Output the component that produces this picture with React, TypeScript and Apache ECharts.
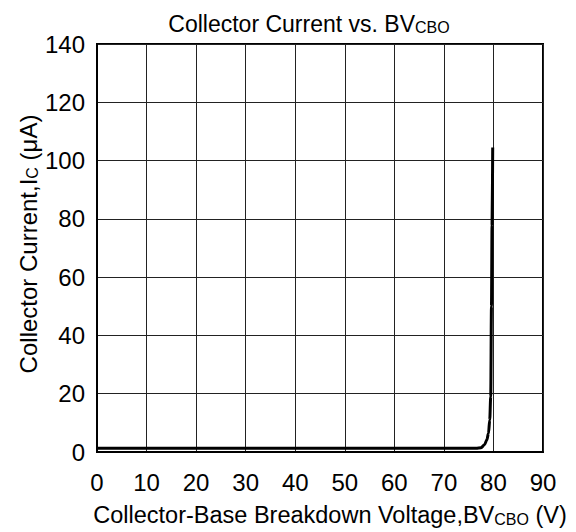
import React, { useEffect, useRef } from "react";
import * as echarts from "echarts";

const xTicks = [0, 10, 20, 30, 40, 50, 60, 70, 80, 90];
const yTicks = [0, 20, 40, 60, 80, 100, 120, 140];
const voltage = [0, 76.5, 77.5, 78.2, 78.65, 79.0, 79.25, 79.45, 79.6, 79.72, 79.85];
const current = [1.3, 1.3, 1.5, 2.5, 4.1, 6.4, 11, 19, 50, 78, 104.5];

const FONT = "Liberation Sans, Arial, sans-serif";

export default function App() {
  const ref = useRef<HTMLDivElement>(null);
  useEffect(() => {
    if (!ref.current) return;
    const chart = echarts.init(ref.current, null, { renderer: "svg" });
    const data = voltage.map((v, i) => [v, current[i]]);
    chart.setOption({
      animation: false,
      backgroundColor: "#fff",
      grid: {
        left: 97,
        right: 33,
        top: 44,
        bottom: 80,
        show: true,
        borderColor: "#000",
        borderWidth: 2,
      },
      xAxis: {
        type: "value",
        min: xTicks[0],
        max: xTicks[xTicks.length - 1],
        interval: 10,
        axisLine: { show: true, lineStyle: { color: "#000", width: 2 } },
        axisTick: { show: false },
        splitLine: { show: true, lineStyle: { color: "#222", width: 1 } },
        axisLabel: { color: "#000", fontSize: 24, fontFamily: FONT, margin: 18 },
      },
      yAxis: {
        type: "value",
        min: yTicks[0],
        max: yTicks[yTicks.length - 1],
        interval: 20,
        axisLine: { show: true, lineStyle: { color: "#000", width: 2 } },
        axisTick: { show: false },
        splitLine: { show: true, lineStyle: { color: "#222", width: 1 } },
        axisLabel: { color: "#000", fontSize: 24, fontFamily: FONT, margin: 12 },
      },
      series: [
        {
          type: "line",
          data,
          showSymbol: false,
          smooth: 0.3,
          smoothMonotone: "x",
          lineStyle: { color: "#000", width: 3 },
        },
      ],
      graphic: [
        {
          type: "text",
          x: 309,
          y: 22,
          style: {
            text: "{a|Collector Current vs. BV}{s|CBO}",
            align: "center",
            verticalAlign: "middle",
            fill: "#000",
            rich: {
              a: { fontSize: 23, fontFamily: FONT, fill: "#000", lineHeight: 26, verticalAlign: "bottom" },
              s: { fontSize: 16, fontFamily: FONT, fill: "#000", lineHeight: 17, verticalAlign: "bottom" },
            },
          },
        },
        {
          type: "text",
          x: 330,
          y: 514,
          style: {
            text: "{a|Collector-Base Breakdown Voltage,BV}{s|CBO}{a| (V)}",
            align: "center",
            verticalAlign: "middle",
            fill: "#000",
            rich: {
              a: { fontSize: 23.5, fontFamily: FONT, fill: "#000", lineHeight: 26, verticalAlign: "bottom" },
              s: { fontSize: 16, fontFamily: FONT, fill: "#000", lineHeight: 17, verticalAlign: "bottom" },
            },
          },
        },
        {
          type: "text",
          x: 27,
          y: 244,
          rotation: Math.PI / 2,
          style: {
            text: "{a|Collector Current,I}{s|C}{a| (μA)}",
            align: "center",
            verticalAlign: "middle",
            fill: "#000",
            rich: {
              a: { fontSize: 24, fontFamily: FONT, fill: "#000", lineHeight: 27, verticalAlign: "bottom" },
              s: { fontSize: 16, fontFamily: FONT, fill: "#000", lineHeight: 17, verticalAlign: "bottom" },
            },
          },
        },
      ],
    });
    return () => chart.dispose();
  }, []);
  return (
    <div
      ref={ref}
      style={{ position: "fixed", left: 0, top: 0, width: 576, height: 532 }}
    />
  );
}
